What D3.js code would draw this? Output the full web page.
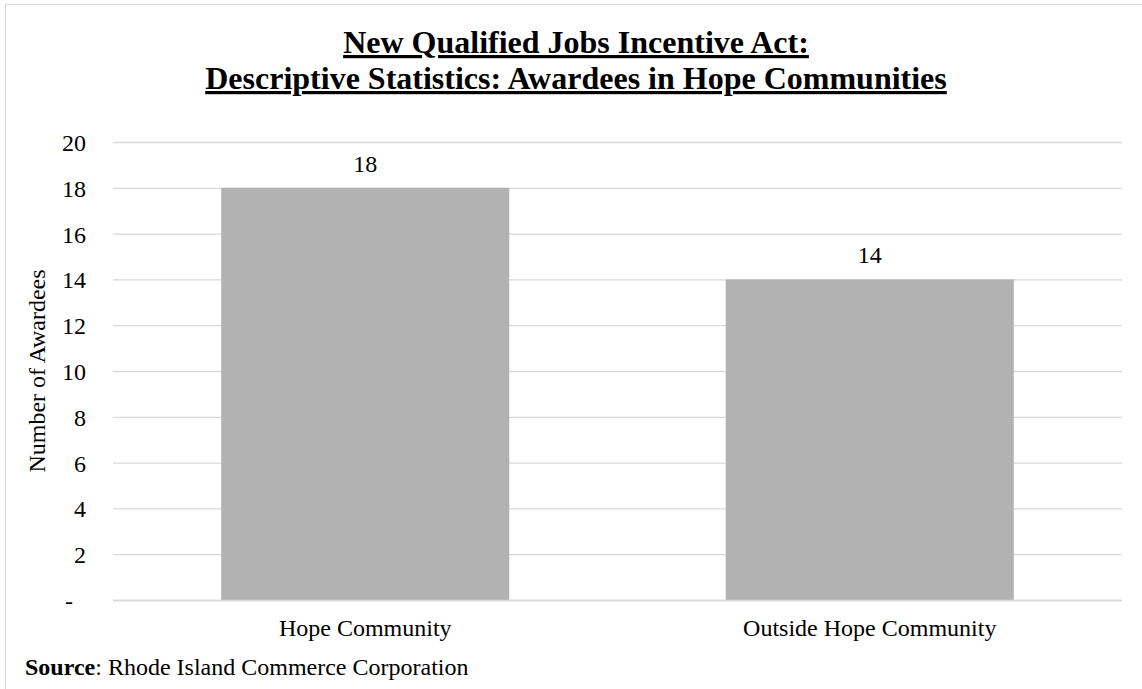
<!DOCTYPE html>
<html><head><meta charset="utf-8">
<script src="https://cdn.jsdelivr.net/npm/d3@7"></script>
<style>body{margin:0;background:#fff}svg{display:block}text{font-family:"Liberation Serif","Times New Roman",serif;fill:#000}</style>
</head><body>
<svg id="c" width="1142" height="689"></svg>
<script>
const categories = ["Hope Community", "Outside Hope Community"];
const values = [18, 14];
const yTicks = [0, 2, 4, 6, 8, 10, 12, 14, 16, 18, 20];
const titleLines = ["New Qualified Jobs Incentive Act:", "Descriptive Statistics: Awardees in Hope Communities"];

(function(){
const FS = 24;
const svg = d3.select("#c");
svg.append("rect").attr("x",5.5).attr("y",4.5).attr("width",1140).attr("height",690)
  .attr("fill","#fff").attr("stroke","#d9d9d9").attr("stroke-width",1);

const pL=113, pR=1122, pT=142, pB=600;
const x = d3.scaleBand().domain(categories).range([pL,pR]).paddingInner(0.429).paddingOuter(0.2145);
const y = d3.scaleLinear().domain([0,20]).range([pB,pT]);

svg.append("g").selectAll("line").data(yTicks).join("line")
  .attr("x1",pL).attr("x2",pR).attr("y1",d=>y(d)+0.5).attr("y2",d=>y(d)+0.5)
  .attr("stroke","#d9d9d9").attr("stroke-width",1.3);

svg.append("g").selectAll("rect").data(values).join("rect")
  .attr("x",(d,i)=>x(categories[i])).attr("width",x.bandwidth())
  .attr("y",d=>y(d)).attr("height",d=>pB-y(d)).attr("fill","#b2b2b2");

svg.append("line").attr("x1",pL).attr("x2",pR).attr("y1",pB+0.5).attr("y2",pB+0.5)
  .attr("stroke","#d9d9d9").attr("stroke-width",1.3);

svg.append("g").selectAll("text").data(values).join("text")
  .attr("x",(d,i)=>x(categories[i])+x.bandwidth()/2).attr("y",d=>y(d)-16)
  .attr("text-anchor","middle").attr("font-size",FS).text(d=>d);

const yAxis = d3.axisLeft(y).tickValues(yTicks).tickSize(0).tickPadding(0)
  .tickFormat(d=>d===0?"-":d);
const ga = svg.append("g").attr("transform",`translate(86,0)`).call(yAxis);
ga.select(".domain").remove();
ga.selectAll("text").attr("font-size",FS).attr("font-family","Liberation Serif, serif").attr("fill","#000")
  .attr("dy","0.35em").attr("dx",d=>d===0?-13:0);

const xAxis = d3.axisBottom(x).tickSize(0).tickPadding(0);
const gx = svg.append("g").attr("transform",`translate(0,${pB})`).call(xAxis);
gx.select(".domain").remove();
gx.selectAll("text").attr("font-size",FS).attr("font-family","Liberation Serif, serif").attr("fill","#000")
  .attr("y",36).attr("dy",0);

svg.append("text").attr("transform",`translate(45,${(pT+pB)/2}) rotate(-90)`)
  .attr("text-anchor","middle").attr("font-size",FS).text("Number of Awardees");

svg.append("g").selectAll("text").data(titleLines).join("text")
  .attr("x",576).attr("y",(d,i)=>53+i*36).attr("text-anchor","middle")
  .attr("font-size",32).attr("font-weight","bold").attr("text-decoration","underline").text(d=>d);

const src = svg.append("text").attr("x",25).attr("y",675).attr("font-size",FS);
src.append("tspan").attr("font-weight","bold").text("Source");
src.append("tspan").text(": Rhode Island Commerce Corporation");
})();
</script>
</body></html>
